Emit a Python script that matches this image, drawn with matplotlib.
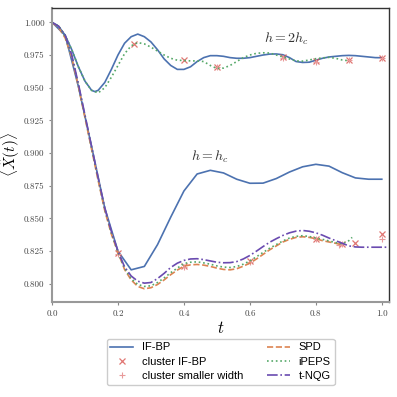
import matplotlib
matplotlib.use("Agg")
import matplotlib.pyplot as plt

plt.rcParams["mathtext.fontset"] = "cm"
plt.rcParams["font.family"] = "serif"
plt.rcParams["font.serif"] = ["cmr10", "DejaVu Serif"]
plt.rcParams["axes.formatter.use_mathtext"] = True

# h = 2 h_c
t_bp2 = [0.00, 0.02, 0.04, 0.06, 0.08, 0.10, 0.12, 0.13, 0.14, 0.16, 0.18, 0.20,
         0.22, 0.24, 0.26, 0.28, 0.30, 0.32, 0.34, 0.36, 0.38, 0.40, 0.42, 0.44,
         0.46, 0.48, 0.50, 0.52, 0.54, 0.56, 0.58, 0.60, 0.62, 0.64, 0.66, 0.68,
         0.70, 0.72, 0.74, 0.76, 0.78, 0.80, 0.82, 0.84, 0.86, 0.88, 0.90, 0.92,
         0.94, 0.96, 0.98, 1.00]
bp2 = [1.000, 0.997, 0.990, 0.979, 0.966, 0.955, 0.948, 0.947, 0.948, 0.954, 0.964, 0.975,
       0.984, 0.989, 0.991, 0.989, 0.985, 0.979, 0.972, 0.967, 0.964, 0.964, 0.966, 0.970,
       0.973, 0.9745, 0.9745, 0.974, 0.973, 0.9725, 0.9725, 0.973, 0.974, 0.975, 0.9757, 0.9758,
       0.9752, 0.973, 0.970, 0.9693, 0.9695, 0.971, 0.9725, 0.9735, 0.974, 0.9745, 0.9747, 0.9745,
       0.974, 0.9735, 0.973, 0.9729]

t_peps2 = [0.00, 0.02, 0.04, 0.06, 0.08, 0.10, 0.12, 0.14, 0.16, 0.18, 0.20, 0.22,
           0.24, 0.26, 0.28, 0.30, 0.32, 0.34, 0.36, 0.38, 0.40, 0.42, 0.44, 0.46,
           0.48, 0.50, 0.52, 0.54, 0.56, 0.58, 0.60, 0.62, 0.64, 0.66, 0.68, 0.70,
           0.72, 0.74, 0.76, 0.78, 0.80, 0.82, 0.84, 0.86, 0.88, 0.90]
peps2 = [1.000, 0.997, 0.990, 0.979, 0.966, 0.955, 0.948, 0.946, 0.950, 0.958, 0.967, 0.976,
         0.982, 0.9845, 0.9835, 0.981, 0.978, 0.975, 0.9725, 0.971, 0.9708, 0.9705, 0.9705, 0.970,
         0.967, 0.9647, 0.965, 0.967, 0.970, 0.973, 0.975, 0.9763, 0.9767, 0.9765, 0.975, 0.9735,
         0.972, 0.9705, 0.9703, 0.9712, 0.9722, 0.9728, 0.9732, 0.9725, 0.9712, 0.9706]

t_cl2 = [0.25, 0.40, 0.50, 0.70, 0.80, 0.90, 1.00]
cl2 = [0.9832, 0.9709, 0.9660, 0.9732, 0.9703, 0.9711, 0.9729]
t_sw2 = [0.50, 0.70, 0.80, 0.90, 1.00]
sw2 = [0.9662, 0.9730, 0.9700, 0.9708, 0.9727]

# h = h_c
t_bp1 = [0.00, 0.04, 0.08, 0.12, 0.16, 0.20, 0.24, 0.28, 0.32, 0.36, 0.40, 0.44,
         0.48, 0.52, 0.56, 0.60, 0.64, 0.68, 0.72, 0.76, 0.80, 0.84, 0.88, 0.92,
         0.96, 1.00]
bp1 = [1.000, 0.990, 0.951, 0.905, 0.858, 0.825, 0.8107, 0.8133, 0.830, 0.851, 0.871, 0.884,
       0.8868, 0.8848, 0.880, 0.8769, 0.877, 0.8805, 0.8855, 0.8895, 0.8914, 0.890, 0.885, 0.881,
       0.880, 0.880]

t_nqg = [0.00, 0.02, 0.04, 0.06, 0.08, 0.10, 0.12, 0.14, 0.16, 0.18, 0.20, 0.22,
         0.24, 0.26, 0.28, 0.30, 0.32, 0.34, 0.36, 0.38, 0.40, 0.42, 0.44, 0.46,
         0.48, 0.50, 0.52, 0.54, 0.56, 0.58, 0.60, 0.62, 0.64, 0.66, 0.68, 0.70,
         0.72, 0.74, 0.76, 0.78, 0.80, 0.82, 0.84, 0.86, 0.88, 0.90, 0.92, 0.94,
         0.96, 0.98, 1.00, 1.02]
nqg = [1.000, 0.997, 0.990, 0.975, 0.953, 0.929, 0.905, 0.881, 0.858, 0.840, 0.825, 0.813,
       0.806, 0.802, 0.8005, 0.801, 0.804, 0.808, 0.8125, 0.8158, 0.8179, 0.819, 0.8192, 0.8185,
       0.8175, 0.8165, 0.8161, 0.8162, 0.817, 0.819, 0.8217, 0.825, 0.8285, 0.8318, 0.8345, 0.837,
       0.839, 0.8403, 0.8408, 0.8402, 0.839, 0.8372, 0.835, 0.833, 0.831, 0.829, 0.8282, 0.828,
       0.828, 0.828, 0.828, 0.828]

t_spd = [0.00, 0.02, 0.04, 0.06, 0.08, 0.10, 0.12, 0.14, 0.16, 0.18, 0.20, 0.22,
         0.24, 0.26, 0.28, 0.30, 0.32, 0.34, 0.36, 0.38, 0.40, 0.42, 0.44, 0.46,
         0.48, 0.50, 0.52, 0.54, 0.56, 0.58, 0.60, 0.62, 0.64, 0.66, 0.68, 0.70,
         0.72, 0.74, 0.76, 0.78, 0.80, 0.82, 0.84, 0.86, 0.88]
spd = [1.000, 0.996, 0.988, 0.973, 0.951, 0.927, 0.903, 0.879, 0.856, 0.838, 0.824, 0.811,
       0.803, 0.798, 0.7962, 0.797, 0.7995, 0.803, 0.807, 0.8105, 0.8135, 0.8145, 0.8148, 0.8143,
       0.8133, 0.812, 0.811, 0.8107, 0.8115, 0.8135, 0.8158, 0.819, 0.8225, 0.826, 0.829, 0.832,
       0.834, 0.8355, 0.836, 0.8355, 0.8345, 0.833, 0.832, 0.831, 0.8298]

t_peps1 = [0.00, 0.02, 0.04, 0.06, 0.08, 0.10, 0.12, 0.14, 0.16, 0.18, 0.20, 0.22,
           0.24, 0.26, 0.28, 0.30, 0.32, 0.34, 0.36, 0.38, 0.40, 0.42, 0.44, 0.46,
           0.48, 0.50, 0.52, 0.54, 0.56, 0.58, 0.60, 0.62, 0.64, 0.66, 0.68, 0.70,
           0.72, 0.74, 0.76, 0.78, 0.80, 0.82, 0.84, 0.86, 0.88, 0.90, 0.91]
peps1 = [1.000, 0.997, 0.989, 0.974, 0.952, 0.928, 0.904, 0.880, 0.857, 0.839, 0.824, 0.812,
         0.804, 0.7995, 0.798, 0.7985, 0.801, 0.8045, 0.8085, 0.812, 0.8155, 0.8165, 0.8168, 0.816,
         0.815, 0.8137, 0.8128, 0.8125, 0.8132, 0.815, 0.8175, 0.8207, 0.824, 0.8272, 0.830, 0.8328,
         0.835, 0.8363, 0.8368, 0.8362, 0.835, 0.834, 0.8328, 0.8315, 0.8305, 0.833, 0.8355]

t_cl1 = [0.20, 0.40, 0.60, 0.80, 0.88, 0.92, 1.00]
cl1 = [0.8234, 0.8133, 0.8171, 0.8345, 0.8307, 0.8314, 0.8383]
t_sw1 = [0.20, 0.40, 0.60, 0.80, 0.87, 0.88, 1.00]
sw1 = [0.8230, 0.8130, 0.8168, 0.8340, 0.8300, 0.8305, 0.8345]

c_bp = "#4c72b0"
c_cl = "#d9534f"
c_sw = "#e89a9a"
c_spd = "#dd8452"
c_peps = "#55a868"
c_nqg = "#6a4bb0"

fig = plt.figure(figsize=(3.97, 3.97), dpi=100)
ax = fig.add_axes([0.131, 0.239, 0.849, 0.741])

ax.plot(t_bp2, bp2, color=c_bp, lw=1.2, label="IF-BP")
ax.plot(t_bp1, bp1, color=c_bp, lw=1.2)
ax.plot(t_cl2, cl2, "x", color=c_cl, ms=4, mew=0.9, alpha=0.8, label="cluster IF-BP")
ax.plot(t_cl1, cl1, "x", color=c_cl, ms=4, mew=0.9, alpha=0.8)
ax.plot(t_sw2, sw2, "+", color=c_sw, ms=4, mew=0.8, label="cluster smaller width")
ax.plot(t_sw1, sw1, "+", color=c_sw, ms=4, mew=0.8)
ax.plot(t_spd, spd, "--", color=c_spd, lw=1.2, label="SPD")
ax.plot(t_peps2, peps2, ":", color=c_peps, lw=1.2, label="iPEPS")
ax.plot(t_peps1, peps1, ":", color=c_peps, lw=1.2)
ax.plot(t_nqg, nqg, "-.", color=c_nqg, lw=1.2, label="t-NQG")

ax.text(0.71, 0.9877, r"$h = 2h_c$", fontsize=10, ha="center", va="center", color="#333333")
ax.text(0.48, 0.8975, r"$h = h_c$", fontsize=10, ha="center", va="center", color="#333333")

ax.set_xlim(0.0, 1.022)
ax.set_ylim(0.786, 1.011)
ax.set_xticks([0.0, 0.2, 0.4, 0.6, 0.8, 1.0])
ax.set_yticks([0.800, 0.825, 0.850, 0.875, 0.900, 0.925, 0.950, 0.975, 1.000])
ax.set_yticklabels(["0.800", "0.825", "0.850", "0.875", "0.900", "0.925", "0.950", "0.975", "1.000"])
ax.set_xticklabels(["0.0", "0.2", "0.4", "0.6", "0.8", "1.0"])
ax.tick_params(labelsize=6.5, length=2, color="#888888", labelcolor="#444444")
ax.set_xlabel(r"$t$", fontsize=12, labelpad=1)
ax.set_ylabel(r"$\langle \hat{X}(t) \rangle$", fontsize=11, labelpad=1)

for s in ["left", "bottom"]:
    ax.spines[s].set_color("#999999")
    ax.spines[s].set_linewidth(1.5)
for s in ["top", "right"]:
    ax.spines[s].set_color("#333333")
    ax.spines[s].set_linewidth(1.0)

ax.legend(loc="upper center", bbox_to_anchor=(0.5, -0.105), ncol=2,
          prop={"family": "Liberation Sans", "size": 8}, columnspacing=2.2,
          handlelength=2.0, frameon=True, framealpha=1.0, edgecolor="#cccccc",
          borderpad=0.35, labelspacing=0.4)

fig.savefig("out.png", dpi=100)
